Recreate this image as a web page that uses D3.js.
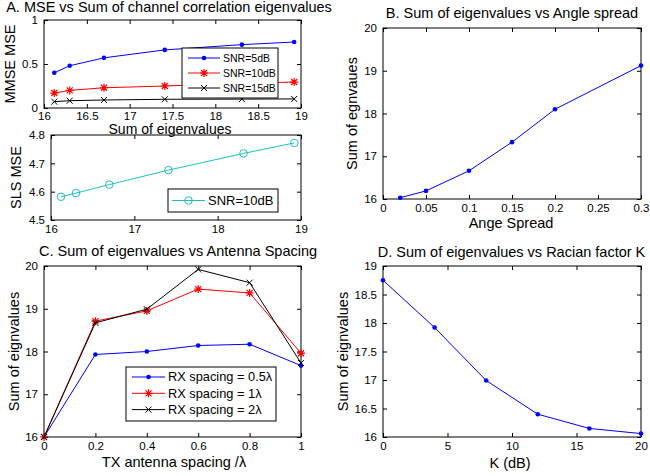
<!DOCTYPE html>
<html><head><meta charset="utf-8">
<script src="https://cdn.jsdelivr.net/npm/d3@7"></script>
<style>html,body{margin:0;padding:0;background:#fff;} svg{display:block;font-family:"Liberation Sans",Arial,sans-serif;}</style>
</head><body>
<svg id="c" width="650" height="476"></svg>
<script>
// ---------- data ----------
const eigSum   = [16.12, 16.30, 16.70, 17.41, 18.31, 18.92];
const mmse5    = [0.40, 0.48, 0.57, 0.66, 0.72, 0.75];
const mmse10   = [0.17, 0.20, 0.23, 0.25, 0.28, 0.295];
const mmse15   = [0.072, 0.083, 0.091, 0.099, 0.101, 0.103];
const slsMse10 = [4.582, 4.595, 4.625, 4.676, 4.735, 4.772];
const angleSpread = [0.02, 0.05, 0.1, 0.15, 0.2, 0.3];
const eigAngle    = [16.03, 16.19, 16.66, 17.33, 18.10, 19.12];
const txSpacing = [0, 0.2, 0.4, 0.6, 0.8, 1];
const eigRx05   = [16.0, 17.93, 18.00, 18.14, 18.17, 17.67];
const eigRx1    = [16.0, 18.71, 18.95, 19.46, 19.37, 17.96];
const eigRx2    = [16.0, 18.67, 18.99, 19.92, 19.61, 17.73];
const kFactor = [0, 4, 8, 12, 16, 20];
const eigK    = [18.75, 17.92, 16.99, 16.40, 16.15, 16.06];

const ticksAx = [16, 16.5, 17, 17.5, 18, 18.5, 19];
const ticksAy = [0, 0.5, 1];
const ticksSx = [16, 17, 18, 19];
const ticksSy = [4.5, 4.6, 4.7, 4.8];
const ticksBx = [0, 0.05, 0.1, 0.15, 0.2, 0.25, 0.3];
const ticksBy = [16, 17, 18, 19, 20];
const ticksCx = [0, 0.2, 0.4, 0.6, 0.8, 1];
const ticksCy = [16, 17, 18, 19, 20];
const ticksDx = [0, 5, 10, 15, 20];
const ticksDy = [16, 16.5, 17, 17.5, 18, 18.5, 19];

const BLUE = "#0000ff", RED = "#ff0000", BLACK = "#000000", CYAN = "#1fbfbf";
const TICKFS = 11.5, LABFS = 14.5;

const svg = d3.select("#c");

function marker(g, type, x, y, color) {
  if (type === "dot") {
    g.append("circle").attr("cx", x).attr("cy", y).attr("r", 2.3).attr("fill", color);
  } else if (type === "circle") {
    g.append("circle").attr("cx", x).attr("cy", y).attr("r", 3.8).attr("fill", "none").attr("stroke", color).attr("stroke-width", 1);
  } else if (type === "star") {
    const s = 4, d = 3;
    const p = `M${x - s},${y}L${x + s},${y}M${x},${y - s}L${x},${y + s}M${x - d},${y - d}L${x + d},${y + d}M${x - d},${y + d}L${x + d},${y - d}`;
    g.append("path").attr("d", p).attr("stroke", color).attr("stroke-width", 1.2).attr("fill", "none");
  } else if (type === "x") {
    const d = 3;
    const p = `M${x - d},${y - d}L${x + d},${y + d}M${x - d},${y + d}L${x + d},${y - d}`;
    g.append("path").attr("d", p).attr("stroke", color).attr("stroke-width", 1).attr("fill", "none");
  }
}

function panel(cfg) {
  const g = svg.append("g");
  const x = d3.scaleLinear().domain(cfg.xd).range([cfg.l, cfg.r]);
  const y = d3.scaleLinear().domain(cfg.yd).range([cfg.b, cfg.t]);
  const fmt = d => String(d);
  const style = sel => {
    sel.attr("font-family", null).attr("font-size", null);
    sel.selectAll("text").attr("font-size", TICKFS).attr("fill", "#000");
    sel.selectAll("line").attr("stroke", "#000");
    sel.select(".domain").remove();
  };
  const xpad = cfg.xpad != null ? cfg.xpad : 5;
  g.append("g").attr("transform", `translate(0,${cfg.b})`)
    .call(d3.axisBottom(x).tickValues(cfg.xt).tickFormat(fmt).tickSizeInner(-4).tickSizeOuter(0).tickPadding(xpad)).call(style);
  g.append("g").attr("transform", `translate(0,${cfg.t})`)
    .call(d3.axisTop(x).tickValues(cfg.xt).tickFormat("").tickSizeInner(-4).tickSizeOuter(0)).call(style);
  g.append("g").attr("transform", `translate(${cfg.l},0)`)
    .call(d3.axisLeft(y).tickValues(cfg.yt).tickFormat(fmt).tickSizeInner(-4).tickSizeOuter(0).tickPadding(6)).call(style);
  g.append("g").attr("transform", `translate(${cfg.r},0)`)
    .call(d3.axisRight(y).tickValues(cfg.yt).tickFormat("").tickSizeInner(-4).tickSizeOuter(0)).call(style);
  g.append("rect").attr("x", cfg.l).attr("y", cfg.t).attr("width", cfg.r - cfg.l).attr("height", cfg.b - cfg.t)
    .attr("fill", "none").attr("stroke", "#000").attr("stroke-width", 1);

  const line = d3.line().x(d => x(d[0])).y(d => y(d[1]));
  cfg.series.forEach(s => {
    const pts = s.xs.map((v, i) => [v, s.ys[i]]);
    g.append("path").attr("d", line(pts)).attr("fill", "none").attr("stroke", s.color).attr("stroke-width", 1);
    pts.forEach(p => marker(g, s.marker, x(p[0]), y(p[1]), s.color));
  });

  if (cfg.title) g.append("text").attr("x", cfg.titleX != null ? cfg.titleX : (cfg.l + cfg.r) / 2).attr("y", cfg.titleY)
    .attr("text-anchor", "middle").attr("font-size", LABFS).text(cfg.title);
  if (cfg.xlabel) g.append("text").attr("x", cfg.xlabelX != null ? cfg.xlabelX : (cfg.l + cfg.r) / 2).attr("y", cfg.xlabelY)
    .attr("text-anchor", "middle").attr("font-size", cfg.xlabelFs || LABFS).text(cfg.xlabel);
  if (cfg.ylabel) g.append("text").attr("transform", `translate(${cfg.ylabelX},${(cfg.t + cfg.b) / 2}) rotate(-90)`)
    .attr("dy", "0.35em").attr("text-anchor", "middle").attr("font-size", LABFS).text(cfg.ylabel);

  if (cfg.legend) {
    const L = cfg.legend;
    g.append("rect").attr("x", L.x).attr("y", L.y).attr("width", L.w).attr("height", L.h)
      .attr("fill", "#fff").attr("stroke", "#000").attr("stroke-width", 1);
    L.items.forEach((it, i) => {
      const yy = L.y0 + i * L.dy;
      g.append("line").attr("x1", L.lx0).attr("x2", L.lx1).attr("y1", yy).attr("y2", yy)
        .attr("stroke", it.color).attr("stroke-width", 1);
      marker(g, it.marker, (L.lx0 + L.lx1) / 2, yy, it.color);
      g.append("text").attr("x", L.tx).attr("y", yy).attr("dy", "0.35em").attr("font-size", L.fs).text(it.label);
    });
  }
  return g;
}

// Panel A (top): MMSE MSE
panel({
  l: 44, r: 301, t: 20, b: 108, xd: [16, 19], yd: [0, 1], xt: ticksAx, yt: ticksAy, xpad: 3.5,
  series: [
    {xs: eigSum, ys: mmse5, color: BLUE, marker: "dot"},
    {xs: eigSum, ys: mmse10, color: RED, marker: "star"},
    {xs: eigSum, ys: mmse15, color: BLACK, marker: "x"}
  ],
  title: "A. MSE vs Sum of channel correlation eigenvalues", titleY: 12, titleX: 169,
  xlabel: "Sum of eigenvalues", xlabelY: 133.5, xlabelX: 170, xlabelFs: 14,
  ylabel: "MMSE MSE", ylabelX: 10,
  legend: {x: 182, y: 48, w: 96, h: 50, y0: 58, dy: 15, lx0: 188, lx1: 220, tx: 223, fs: 10.5,
    items: [
      {label: "SNR=5dB", color: BLUE, marker: "dot"},
      {label: "SNR=10dB", color: RED, marker: "star"},
      {label: "SNR=15dB", color: BLACK, marker: "x"}
    ]}
});

// Panel A (bottom): SLS MSE
panel({
  l: 51, r: 301, t: 135, b: 220, xd: [16, 19], yd: [4.5, 4.8], xt: ticksSx, yt: ticksSy,
  series: [{xs: eigSum, ys: slsMse10, color: CYAN, marker: "circle"}],
  ylabel: "SLS MSE", ylabelX: 16,
  legend: {x: 168, y: 189, w: 110, h: 23, y0: 200.5, dy: 15, lx0: 172, lx1: 205, tx: 208, fs: 13,
    items: [{label: "SNR=10dB", color: CYAN, marker: "circle"}]}
});

// Panel B
panel({
  l: 383, r: 641, t: 28, b: 199, xd: [0, 0.3], yd: [16, 20], xt: ticksBx, yt: ticksBy,
  series: [{xs: angleSpread, ys: eigAngle, color: BLUE, marker: "dot"}],
  title: "B. Sum of eigenvalues vs Angle spread", titleY: 17.5,
  xlabel: "Ange Spread", xlabelY: 228, xlabelX: 511,
  ylabel: "Sum of egnvaues", ylabelX: 352
});

// Panel C
panel({
  l: 44, r: 301, t: 266, b: 437, xd: [0, 1], yd: [16, 20], xt: ticksCx, yt: ticksCy,
  series: [
    {xs: txSpacing, ys: eigRx05, color: BLUE, marker: "dot"},
    {xs: txSpacing, ys: eigRx1, color: RED, marker: "star"},
    {xs: txSpacing, ys: eigRx2, color: BLACK, marker: "x"}
  ],
  title: "C. Sum of eigenvalues vs Antenna Spacing", titleY: 256, titleX: 178,
  xlabel: "TX antenna spacing /λ", xlabelY: 467, xlabelX: 174,
  ylabel: "Sum of eignvalues", ylabelX: 13.5,
  legend: {x: 126, y: 367, w: 150, h: 54, y0: 377, dy: 16.3, lx0: 132, lx1: 165, tx: 168, fs: 12.8,
    items: [
      {label: "RX spacing = 0.5λ", color: BLUE, marker: "dot"},
      {label: "RX spacing = 1λ", color: RED, marker: "star"},
      {label: "RX spacing = 2λ", color: BLACK, marker: "x"}
    ]}
});

// Panel D
panel({
  l: 383, r: 641, t: 266, b: 437, xd: [0, 20], yd: [16, 19], xt: ticksDx, yt: ticksDy,
  series: [{xs: kFactor, ys: eigK, color: BLUE, marker: "dot"}],
  title: "D. Sum of eigenvalues vs Racian factor K", titleY: 257, titleX: 511.5,
  xlabel: "K (dB)", xlabelY: 468, xlabelX: 510,
  ylabel: "Sum of eignvalues", ylabelX: 342.5
});
</script>
</body></html>
